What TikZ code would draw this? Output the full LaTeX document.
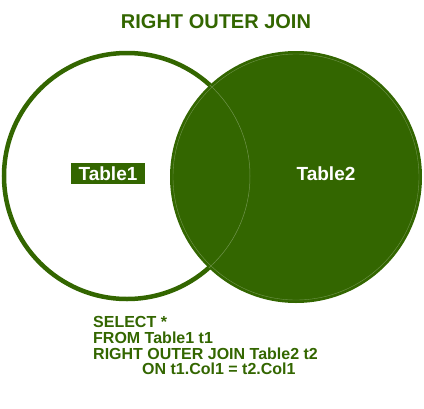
\documentclass[tikz,border=0pt]{standalone}
\usepackage{fontspec}
\setmainfont{Liberation Sans}
\usepackage{tikz}
\usetikzlibrary{calc}
\definecolor{joingreen}{RGB}{51,102,0}

\begin{document}
\begin{tikzpicture}[x=1pt, y=-1pt,
    label/.style = {font=\bfseries\fontsize{19}{19}\selectfont, text=white, inner sep=0pt},
    sql/.style = {font=\bfseries\fontsize{16}{16}\selectfont, text=joingreen, inner sep=0pt, anchor=base west}]
      \useasboundingbox (0,0) rectangle (424,408);
      \node [font=\bfseries\fontsize{20}{20}\selectfont, text=joingreen] (title) at (216, 22) {RIGHT OUTER JOIN};

      % the two sets
      \coordinate (c1) at (127, 176);
      \coordinate (c2) at (296, 177);
      \draw [joingreen, line width=4.5pt] (c1) circle (123);
      \fill [joingreen] (c2) circle (126);
      \begin{scope}
        \clip (c2) circle (126);
        \draw [joingreen!70!white, line width=0.5pt] (c1) circle (123);
      \end{scope}
      \draw [joingreen!70!white, line width=0.4pt] (c2) circle (123);

      \node [label, fill=joingreen, minimum height=21pt, inner xsep=8pt] (t1) at (108, 173.5) {Table1};
      \node [label] (t2) at (326, 174) {Table2};

      \node [sql] (q1) at (93, 327.3) {SELECT *};
      \node [sql] (q2) at (93, 343.2) {FROM Table1 t1};
      \node [sql] (q3) at (93, 359) {RIGHT OUTER JOIN Table2 t2};
      \node [sql] (q4) at (142, 374.8) {ON t1.Col1 = t2.Col1};
\end{tikzpicture}
\end{document}
